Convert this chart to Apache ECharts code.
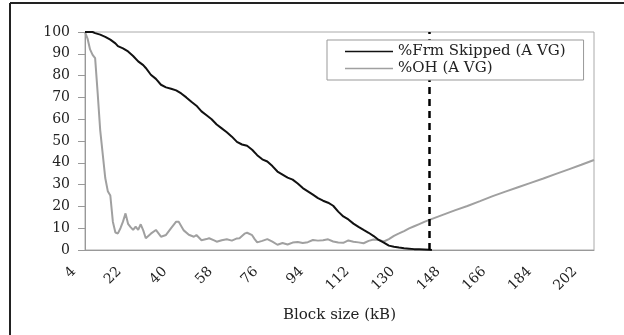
<!DOCTYPE html>
<html>
<head>
<meta charset="utf-8">
<script src="https://cdn.jsdelivr.net/npm/echarts@6/dist/echarts.min.js"></script>
<style>
  html, body { margin: 0; padding: 0; background: #fff; }
  #chart { width: 624px; height: 335px; }
</style>
</head>
<body>
<div id="chart"></div>
<script>
// block sizes on the x axis, 4 .. 205 kB
const blockSizes = []
for (let kb = 4; kb <= 205; kb++) blockSizes.push(String(kb))

// %Frm Skipped (AVG)
const frmKB = [4, 7, 8, 10, 12, 14, 16, 17, 19, 21, 23, 25, 27, 28, 30, 32, 34, 36, 38, 40,
  42, 44, 46, 48, 50, 52, 54, 56, 58, 60, 62, 64, 66, 68, 70, 72, 74, 76, 78, 80,
  82, 84, 86, 88, 90, 92, 94, 96, 98, 100, 102, 104, 106, 108, 110, 112, 114, 116, 118, 120,
  122, 124, 126, 128, 130, 132, 134, 136, 138, 140, 141]
const frmPct = [100, 100, 99.5, 98.8, 97.8, 96.5, 94.8, 93.5, 92.5, 91.1, 89, 86.5, 84.8, 83.5, 80.4, 78.5, 75.8, 74.6, 74, 73.2,
  71.8, 70, 68, 66.2, 63.6, 61.8, 60, 57.6, 55.8, 54, 52, 49.6, 48.4, 47.8, 46, 43.5, 41.6, 40.6, 38.5, 36,
  34.6, 33.2, 32.3, 30.5, 28.4, 26.9, 25.4, 23.8, 22.6, 21.7, 20.3, 17.6, 15.4, 14, 12.1, 10.6, 9.2, 7.9, 6.4, 4.6,
  3.4, 2, 1.5, 1.1, 0.8, 0.6, 0.4, 0.3, 0.2, 0.1, 0]

// %OH (AVG)
const ohKB = [4, 5, 6, 7, 8, 9, 10, 11, 12, 13, 14, 15, 16, 17, 18, 19, 20, 21, 22, 23,
  24, 25, 26, 27, 28, 30, 32, 34, 36, 38, 40, 41, 43, 45, 47, 48, 50, 52, 53, 55,
  56, 58, 60, 62, 64, 65, 67, 68, 70, 71, 72, 74, 76, 78, 80, 82, 84, 86, 88, 90,
  92, 94, 96, 98, 100, 102, 104, 106, 108, 110, 112, 114, 116, 118, 120, 122, 124, 126, 128, 130,
  132, 134, 136, 138, 140, 145, 150, 155, 160, 165, 170, 175, 180, 185, 190, 195, 200, 205]
const ohPct = [100, 97, 92, 89.5, 88, 72, 55, 44, 33, 27, 25, 13, 8, 7.6, 10, 13, 16.8, 12, 10.5, 9.2,
  10.7, 9.2, 11.8, 9, 5.4, 7.5, 9.2, 6.1, 6.9, 10, 13, 13, 9, 7, 6.1, 6.9, 4.5, 5, 5.4, 4.4,
  3.8, 4.5, 4.9, 4.3, 5.3, 5.4, 7.5, 7.9, 6.8, 5, 3.5, 4.2, 5, 3.8, 2.4, 3.2, 2.5, 3.4, 3.7, 3.2,
  3.6, 4.6, 4.3, 4.5, 4.9, 3.9, 3.4, 3.3, 4.4, 3.8, 3.5, 3.1, 4.2, 4.8, 4.6, 3.9, 5, 6.5, 7.6, 8.7,
  9.9, 10.9, 11.9, 12.9, 13.8, 16, 18.2, 20.2, 22.4, 24.7, 26.8, 28.8, 30.8, 32.8, 34.9, 37, 39.1, 41.3]

// marked block size (dashed line)
const markedKB = '140'

const font = 'DejaVu Serif'
const chart = echarts.init(document.getElementById('chart'))

chart.setOption({
  animation: false,
  backgroundColor: '#fff',
  graphic: [
    { type: 'line', shape: { x1: 10, y1: 3, x2: 624, y2: 3 }, style: { stroke: '#222', lineWidth: 2 } },
    { type: 'line', shape: { x1: 10, y1: 3, x2: 10, y2: 335 }, style: { stroke: '#222', lineWidth: 2 } }
  ],
  grid: {
    left: 85,
    top: 32,
    right: 30,
    bottom: 85,
    show: true,
    borderColor: '#aaa',
    borderWidth: 1,
    outerBoundsMode: 'none'
  },
  legend: {
    orient: 'vertical',
    left: 327,
    top: 40,
    z: 10,
    align: 'left',
    backgroundColor: '#fff',
    borderColor: '#999',
    borderWidth: 1,
    padding: [4, 18, 4, 18],
    icon: 'rect',
    itemWidth: 48,
    itemHeight: 1.5,
    itemGap: 2,
    textStyle: { fontFamily: font, fontSize: 15, color: '#222' },
    data: ['%Frm Skipped (A VG)', '%OH (A VG)']
  },
  xAxis: {
    type: 'category',
    data: blockSizes,
    boundaryGap: false,
    name: 'Block size (kB)',
    nameLocation: 'middle',
    nameGap: 58,
    nameTextStyle: { fontFamily: font, fontSize: 15, color: '#222' },
    axisLine: { lineStyle: { color: '#999', width: 1 } },
    axisTick: { show: false },
    axisLabel: {
      interval: 17,
      rotate: 45,
      margin: 8,
      padding: [0, 16, 0, 0],
      fontFamily: font,
      fontSize: 14,
      color: '#222'
    },
    splitLine: { show: false }
  },
  yAxis: {
    type: 'value',
    min: 0,
    max: 100,
    interval: 10,
    axisLine: { show: true, lineStyle: { color: '#999', width: 1 } },
    axisTick: { show: true, length: 7, lineStyle: { color: '#999' } },
    axisLabel: { margin: 15, fontFamily: font, fontSize: 14, color: '#222' },
    splitLine: { show: false }
  },
  series: [
    {
      name: '%Frm Skipped (A VG)',
      type: 'line',
      symbol: 'none',
      data: frmKB.map((kb, i) => [String(kb), frmPct[i]]),
      lineStyle: { color: '#111', width: 2 },
      itemStyle: { color: '#111' },
      z: 3,
      markLine: {
        silent: true,
        symbol: 'none',
        label: { show: false },
        lineStyle: { color: '#000', width: 2.5, type: [7, 5] },
        data: [{ xAxis: markedKB }]
      }
    },
    {
      name: '%OH (A VG)',
      type: 'line',
      symbol: 'none',
      data: ohKB.map((kb, i) => [String(kb), ohPct[i]]),
      lineStyle: { color: '#a0a0a0', width: 2 },
      itemStyle: { color: '#a0a0a0' },
      z: 2
    }
  ]
})
</script>
</body>
</html>
